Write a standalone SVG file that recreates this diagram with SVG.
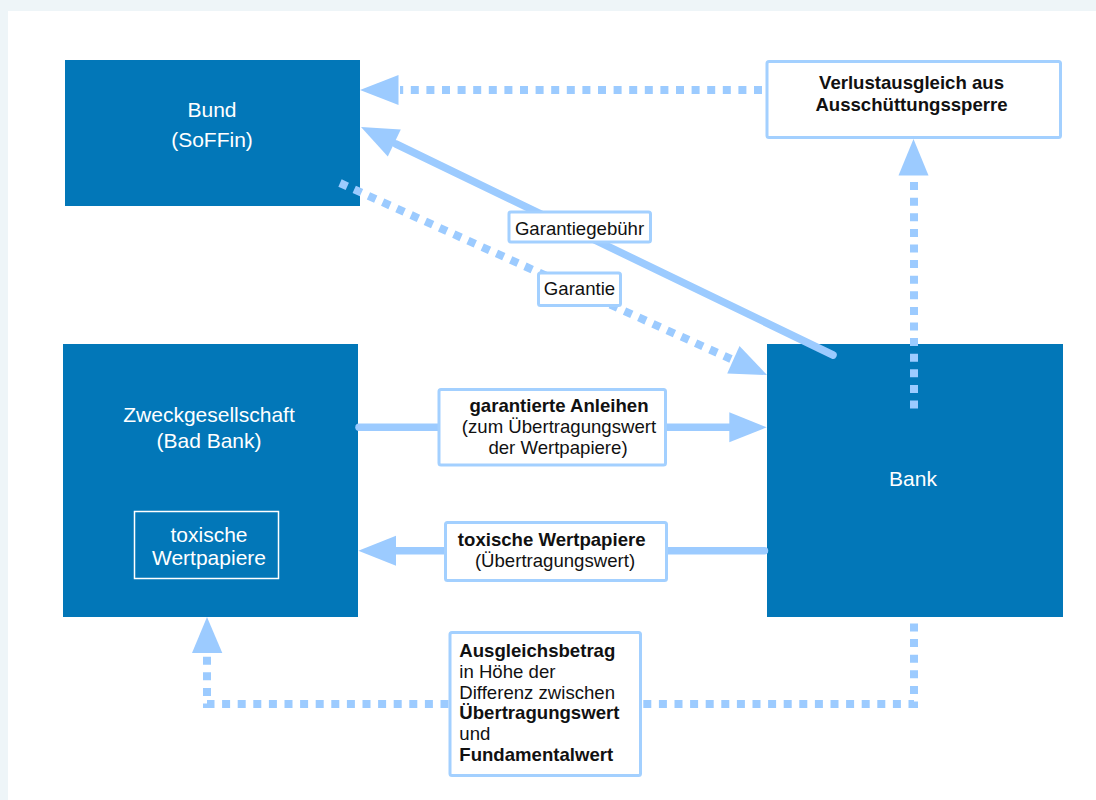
<svg xmlns="http://www.w3.org/2000/svg" width="1096" height="800" viewBox="0 0 1096 800">
<style>
.node{fill:#0277b8}
.ntext{font-family:"Liberation Sans",Arial,sans-serif;font-size:21px;fill:#ffffff;text-anchor:middle}
.lbl{fill:#ffffff;stroke:#a3d0ff;stroke-width:3}
.ltext{font-family:"Liberation Sans",Arial,sans-serif;font-size:18.6px;fill:#111111}
.b{font-weight:bold}
.solid{stroke:#9ccbff;stroke-width:7.5;stroke-linecap:round;fill:none}
.dot{stroke:#9ccbff;stroke-width:8;stroke-dasharray:8 7.6;fill:none}
.head{fill:#9ccbff}
</style>
<rect x="0" y="0" width="1096" height="800" fill="#eef5f8"/>
<rect x="8" y="11" width="1088" height="789" fill="#ffffff"/>

<g id="node-bund">
<rect class="node" x="65" y="60" width="295" height="146"/>
<text class="ntext" x="212" y="117">Bund</text>
<text class="ntext" x="212" y="146.5">(SoFFin)</text>
</g>

<g id="node-zweck">
<rect class="node" x="63" y="344" width="295" height="273"/>
<text class="ntext" x="209" y="421.5">Zweckgesellschaft</text>
<text class="ntext" x="209" y="447.5">(Bad Bank)</text>
<rect x="134.5" y="511.5" width="144" height="67" fill="none" stroke="#ffffff" stroke-width="1.5"/>
<text class="ntext" x="209" y="541.5">toxische</text>
<text class="ntext" x="209" y="565">Wertpapiere</text>
</g>

<g id="node-bank">
<rect class="node" x="767" y="344" width="296" height="273"/>
<text class="ntext" x="913" y="486">Bank</text>
</g>

<g id="connectors">
<!-- Verlustausgleich -> Bund -->
<line class="dot" x1="762" y1="90" x2="400" y2="90"/>
<polygon class="head" points="360,90 398.5,75 398.5,105"/>
<!-- Bank -> Verlustausgleich -->
<line class="dot" x1="914" y1="408.5" x2="914" y2="176"/>
<polygon class="head" points="913.5,139 898.5,175.5 928.5,175.5"/>
<!-- Bank -> Bund (Garantiegebuehr) -->
<line class="solid" x1="833" y1="355" x2="396" y2="144"/>
<polygon class="head" points="361,127 400.8,129.6 387.8,156.6"/>
<!-- Bund -> Bank (Garantie) -->
<line class="dot" x1="340" y1="183" x2="731" y2="359"/>
<polygon class="head" points="767,375 739.5,346.1 727.2,373.5"/>
<!-- Zweck -> Bank -->
<line class="solid" x1="359" y1="427.3" x2="732" y2="427.3"/>
<polygon class="head" points="766.7,427.3 729.3,412.3 729.3,442.3"/>
<!-- Bank -> Zweck -->
<line class="solid" x1="764.5" y1="550.7" x2="394" y2="550.7"/>
<polygon class="head" points="358.3,550.7 396,535.7 396,565.7"/>
<!-- Ausgleichsbetrag -->
<polyline class="dot" points="914,623.5 914,704 207,704 207,654"/>
<polygon class="head" points="207,617 192,653 222.3,653"/>
</g>

<g id="label-verlust">
<rect class="lbl" x="767" y="61.5" width="293.5" height="76" rx="2"/>
<text class="ltext b" x="911.5" y="89.3" text-anchor="middle">Verlustausgleich aus</text>
<text class="ltext b" x="911.5" y="110.8" text-anchor="middle">Ausschüttungssperre</text>
</g>

<g id="label-gebuehr">
<rect class="lbl" x="509" y="212" width="141.5" height="30" rx="2"/>
<text class="ltext" x="579.5" y="235" text-anchor="middle">Garantiegebühr</text>
</g>
<g id="label-garantie">
<rect class="lbl" x="538.5" y="273" width="82" height="32.5" rx="2"/>
<text class="ltext" x="579.5" y="295" text-anchor="middle">Garantie</text>
</g>

<g id="label-anleihen">
<rect class="lbl" x="439" y="389.5" width="226.5" height="75.5" rx="2"/>
<text class="ltext b" x="559" y="411.7" text-anchor="middle">garantierte Anleihen</text>
<text class="ltext" x="559" y="433" text-anchor="middle">(zum Übertragungswert</text>
<text class="ltext" x="558" y="454" text-anchor="middle">der Wertpapiere)</text>
</g>

<g id="label-toxisch">
<rect class="lbl" x="445.5" y="522.5" width="221" height="58" rx="2"/>
<text class="ltext b" x="551.7" y="546" text-anchor="middle">toxische Wertpapiere</text>
<text class="ltext" x="555" y="566.7" text-anchor="middle">(Übertragungswert)</text>
</g>

<g id="label-ausgleich">
<rect class="lbl" x="450" y="632.5" width="190.5" height="143" rx="2"/>
<text class="ltext b" x="459.3" y="657.3">Ausgleichsbetrag</text>
<text class="ltext" x="459.3" y="677.8">in Höhe der</text>
<text class="ltext" x="459.3" y="698.5">Differenz zwischen</text>
<text class="ltext b" x="459.3" y="719.3">Übertragungswert</text>
<text class="ltext" x="459.3" y="740">und</text>
<text class="ltext b" x="459.3" y="760.7">Fundamentalwert</text>
</g>
</svg>
